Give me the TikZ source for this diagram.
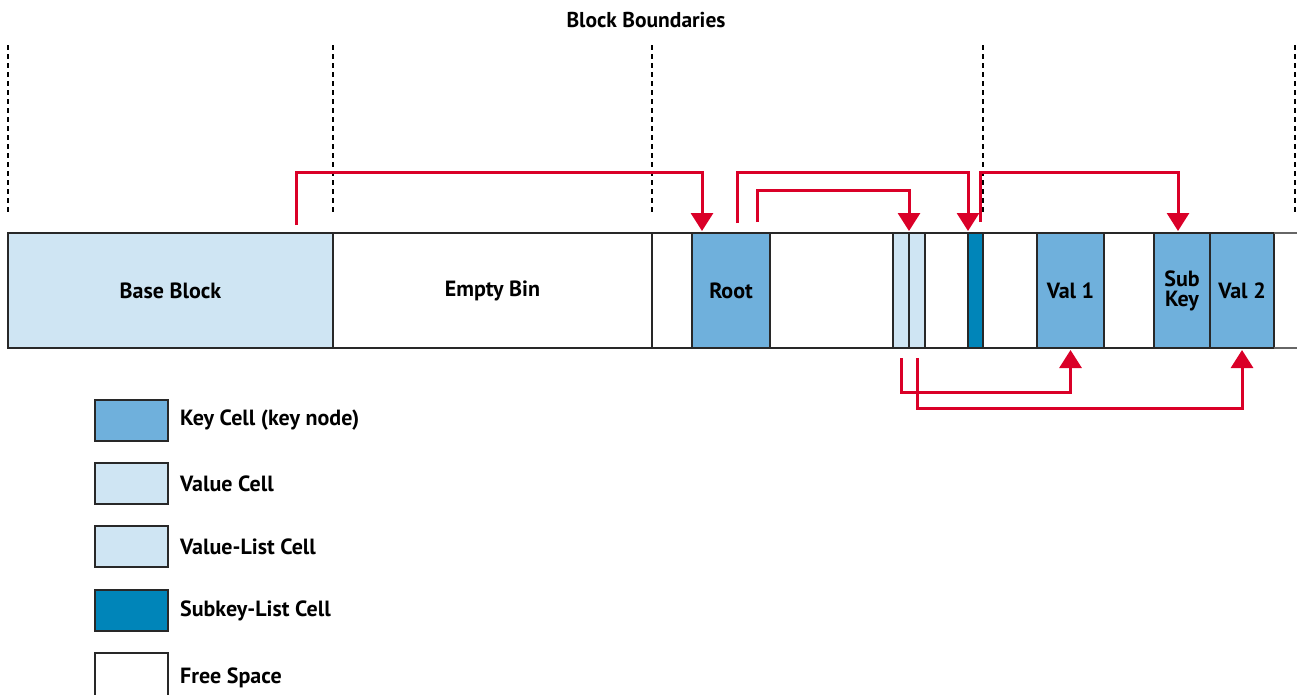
\documentclass[tikz,border=0pt]{standalone}
\usepackage{fontspec}
\setmainfont{PT Sans}
\usetikzlibrary{arrows.meta}
\definecolor{keyblue}{RGB}{111,176,220}
\definecolor{valblue}{RGB}{207,229,243}
\definecolor{subblue}{RGB}{0,133,185}
\definecolor{ptrred}{RGB}{218,0,40}
\definecolor{cellborder}{RGB}{40,40,40}
\begin{document}
\begin{tikzpicture}[x=1pt,y=-1pt,
  font=\bfseries\fontsize{22}{23}\selectfont,
  cell/.style={draw=cellborder, line width=1.5pt, anchor=north west, inner sep=0pt, outer sep=0pt, minimum height=115pt, align=center},
  legbox/.style={draw=cellborder, line width=2pt, anchor=north west, inner sep=0pt, outer sep=0pt, minimum width=73pt, minimum height=41pt},
  leglabel/.style={anchor=west, inner sep=0pt},
  ptr/.style={draw=ptrred, line width=3pt, -{Triangle[width=22pt,length=18pt]}},
  boundary/.style={draw=black, line width=1.3pt, dash pattern=on 5pt off 4pt},
  barline/.style={draw=gray!80!black, line width=2pt}
]
\useasboundingbox (0,0) rectangle (1297,694);

% title
\node[font=\bfseries\fontsize{21.5}{23}\selectfont] (title) at (646,20) {Block Boundaries};

% block boundaries
\foreach \bx/\nm in {8/b0,333/b1,652/b2,983/b3,1295/b4}{
  \coordinate (\nm top) at (\bx,45);
  \coordinate (\nm bot) at (\bx,215);
  \draw[boundary] (\nm top) -- (\nm bot);
}

% bar cells
\node[cell, fill=valblue, minimum width=325pt] (base) at (8,233) {Base Block};
\node[cell, fill=white, minimum width=319pt] (empty) at (333,233) {Empty Bin};
\node[cell, fill=white, minimum width=40pt] (free1) at (652,233) {};
\node[cell, fill=keyblue, minimum width=78pt] (root) at (692,233) {Root};
\node[cell, fill=white, minimum width=123pt] (free2) at (770,233) {};
\node[cell, fill=valblue, minimum width=16pt] (vl1) at (893,233) {};
\node[cell, fill=valblue, minimum width=16pt] (vl2) at (909,233) {};
\node[cell, fill=white, minimum width=43pt] (free3) at (925,233) {};
\node[cell, fill=subblue, minimum width=15pt] (slist) at (968,233) {};
\node[cell, fill=white, minimum width=54pt] (free4) at (983,233) {};
\node[cell, fill=keyblue, minimum width=67pt] (val1) at (1037,233) {Val 1};
\node[cell, fill=white, minimum width=50pt] (free5) at (1104,233) {};
\node[cell, fill=keyblue, minimum width=56pt] (subkey) at (1154,233) {Sub\\[-3pt]Key};
\node[cell, fill=keyblue, minimum width=64pt] (val2) at (1210,233) {Val 2};
\coordinate (endtop) at (1297,233);
\coordinate (endbot) at (1297,348);
\draw[barline] (val2.north east) -- (endtop);
\draw[barline] (val2.south east) -- (endbot);

% pointer levels
\coordinate (lvlA) at (0,172);
\coordinate (lvlB) at (0,190);
\coordinate (lvlC) at (0,392);
\coordinate (lvlD) at (0,408);

% pointers above
\coordinate (p1s) at ([xshift=288pt,yshift=8pt]base.north west);
\draw[ptr] (p1s) -- (p1s |- lvlA) -| ([xshift=10pt,yshift=2pt]root.north west);
\coordinate (p2s) at ([xshift=45pt,yshift=10pt]root.north west);
\draw[ptr] (p2s) -- (p2s |- lvlA) -| ([yshift=2pt]slist.north west);
\coordinate (p3s) at ([xshift=65pt,yshift=11pt]root.north west);
\draw[ptr] (p3s) -- (p3s |- lvlB) -| ([yshift=2pt]vl1.north east);
\coordinate (p4s) at ([xshift=12pt,yshift=11pt]slist.north west);
\draw[ptr] (p4s) -- (p4s |- lvlA) -| ([xshift=-4pt,yshift=2pt]subkey.north);

% pointers below
\coordinate (p5s) at ([yshift=-10pt]vl1.south);
\draw[ptr] (p5s) -- (p5s |- lvlC) -| ([yshift=-2pt]val1.south);
\coordinate (p6s) at ([yshift=-10pt]vl2.south);
\draw[ptr] (p6s) -- (p6s |- lvlD) -| ([yshift=-2pt]val2.south);

% legend
\node[legbox, fill=keyblue] (lg1) at (95,400) {};
\node[leglabel] (lt1) at ([xshift=12pt]lg1.east) {Key Cell (key node)};
\node[legbox, fill=valblue] (lg2) at (95,463) {};
\node[leglabel] (lt2) at ([xshift=12pt]lg2.east) {Value Cell};
\node[legbox, fill=valblue] (lg3) at (95,526) {};
\node[leglabel] (lt3) at ([xshift=12pt]lg3.east) {Value-List Cell};
\node[legbox, fill=subblue] (lg4) at (95,590) {};
\node[leglabel] (lt4) at ([xshift=12pt]lg4.east) {Subkey-List Cell};
\node[legbox, fill=white, minimum height=45pt] (lg5) at (95,653) {};
\node[leglabel] (lt5) at ([xshift=12pt,yshift=-2pt]lg5.east) {Free Space};
\end{tikzpicture}
\end{document}
